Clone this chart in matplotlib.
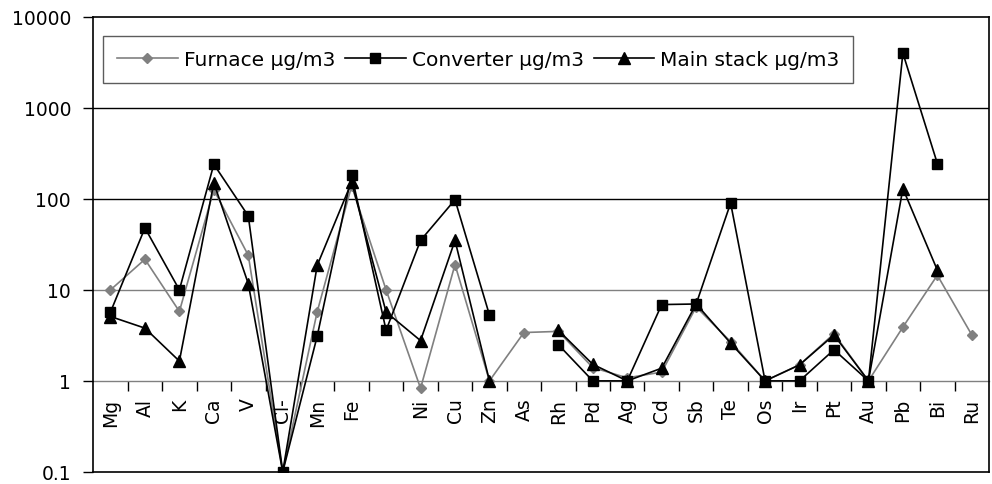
import numpy as np
import matplotlib
matplotlib.use("Agg")
import matplotlib.pyplot as plt
from matplotlib.ticker import FixedLocator, NullFormatter, FixedFormatter

# the source text is a horizontally stretched Arial; DejaVu Sans matches its widths best
plt.rcParams["font.family"] = ["DejaVu Sans"]

# categories along the x axis (the ninth one has no label in the source)
elements = ["Mg", "Al", "K", "Ca", "V", "Cl-", "Mn", "Fe", "", "Ni", "Cu", "Zn", "As",
            "Rh", "Pd", "Ag", "Cd", "Sb", "Te", "Os", "Ir", "Pt", "Au", "Pb", "Bi", "Ru"]

nan = np.nan
furnace = [10, 21.7, 5.8, 126, 24, 0.1, 5.75, 139, 10, 0.83, 19, 1.0, 3.4,
           3.5, 1.4, 1.08, 1.25, 6.5, 2.7, 1.0, 1.5, 3.3, 1.0, 3.9, 14.5, 3.2]
converter = [5.7, 48, 10, 240, 65, 0.1, 3.1, 183, 3.6, 35, 98, 5.3, nan,
             2.5, 1.0, 1.0, 6.9, 7.0, 90, 1.0, 1.0, 2.2, 1.0, 4000, 245, nan]
main_stack = [5.1, 3.8, 1.65, 150, 11.7, 0.1, 18.6, 153, 5.7, 2.77, 35, 1.0, nan,
              3.6, 1.52, 1.0, 1.38, 7.0, 2.6, 1.0, 1.5, 3.2, 1.0, 130, 16.5, nan]

y_ticks = [0.1, 1, 10, 100, 1000, 10000]
y_labels = ["0.1", "1", "10", "100", "1000", "10000"]

fig = plt.figure(figsize=(9.92, 4.85), dpi=100)
ax = fig.add_axes([0.094, 0.025, 0.903, 0.938])

x = np.arange(len(elements))
ax.plot(x, furnace, color="#808080", lw=1.2, marker="D", ms=5.2,
        label="Furnace µg/m3")
ax.plot(x, converter, color="black", lw=1.2, marker="s", ms=7.5,
        label="Converter µg/m3")
ax.plot(x, main_stack, color="black", lw=1.2, marker="^", ms=8,
        label="Main stack µg/m3")

ax.set_yscale("log")
ax.set_ylim(0.1, 10000)
ax.set_xlim(-0.5, len(elements) - 0.5)

# gridlines (the one at 10 shows lighter in the source)
for val, col in zip([10, 100, 1000], ["#808080", "black", "black"]):
    ax.axhline(val, color=col, lw=1, zorder=0)

ax.yaxis.set_major_locator(FixedLocator(y_ticks))
ax.yaxis.set_major_formatter(FixedFormatter(y_labels))
ax.yaxis.set_minor_locator(FixedLocator([]))
ax.tick_params(axis="y", length=7, width=1, pad=9, labelsize=13.5)
ax.set_xticks([])
for sp in ax.spines.values():
    sp.set_linewidth(1.2)

# category axis crossing at y = 1
lo, hi = np.log10(ax.get_ylim())
frac = (0 - lo) / (hi - lo)
sec = ax.secondary_xaxis(frac)
sec.spines["bottom"].set_color("#808080")
sec.spines["bottom"].set_linewidth(1)
sec.xaxis.set_major_locator(FixedLocator(x[:-1] + 0.5))
sec.xaxis.set_major_formatter(NullFormatter())
sec.xaxis.set_minor_locator(FixedLocator(x))
sec.xaxis.set_minor_formatter(FixedFormatter(elements))
sec.tick_params(which="major", length=7, width=1, direction="out")
sec.tick_params(which="minor", length=0, pad=12, labelsize=13.5, labelrotation=90)

leg = ax.legend(loc="upper left", bbox_to_anchor=(0.011, 0.958), ncol=3,
                fontsize=14.5, frameon=True, fancybox=False, borderaxespad=0,
                handlelength=3.0, handletextpad=0.3, columnspacing=0.5,
                borderpad=0.7)
leg.get_frame().set_edgecolor("#333333")
leg.get_frame().set_linewidth(1)

fig.savefig("out.png", dpi=100)
